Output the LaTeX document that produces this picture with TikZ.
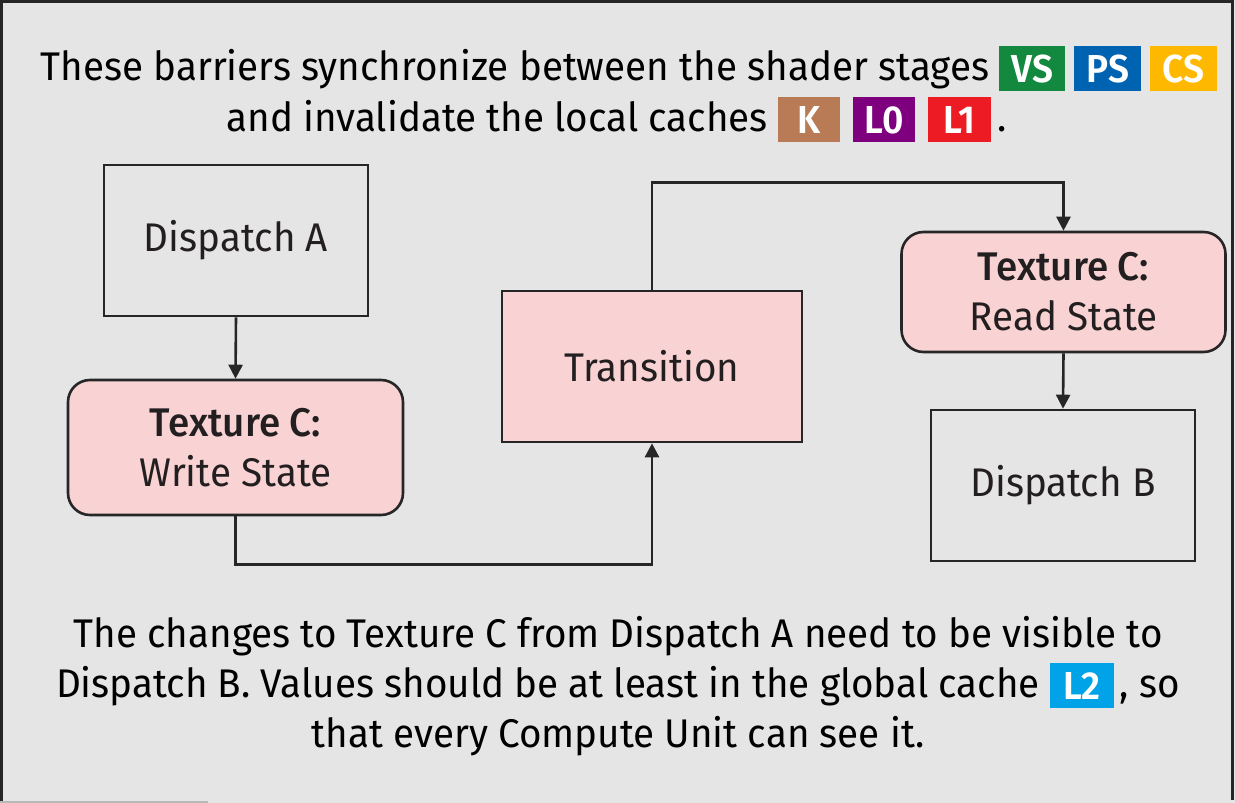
\documentclass[tikz,border=0pt]{standalone}
\usepackage{fontspec}
\setmainfont{Fira Sans}[FakeStretch=0.965, BoldFont={Fira Sans Medium}, BoldFeatures={FakeStretch=0.965}]
\newfontfamily\tagfont{Fira Sans SemiBold}[FakeStretch=0.95]
\usetikzlibrary{arrows.meta}
\definecolor{bgray}{HTML}{E5E5E5}
\definecolor{pinkfill}{HTML}{F9D3D4}
\definecolor{ink}{HTML}{262626}
\definecolor{boxtext}{HTML}{231F20}
\definecolor{cVS}{HTML}{13893F}
\definecolor{cPS}{HTML}{0063B1}
\definecolor{cCS}{HTML}{FFB800}
\definecolor{cK}{HTML}{B97A56}
\definecolor{cLzero}{HTML}{7F007F}
\definecolor{cLone}{HTML}{ED1C24}
\definecolor{cLtwo}{HTML}{00A2E8}
% coloured cache / stage tag
\newcommand{\tagbox}[3]{{\setlength{\fboxsep}{0pt}\colorbox{#1}{\rule[-11pt]{0pt}{45pt}\makebox[#2][c]{\fontsize{39}{40}\selectfont\tagfont\color{white}\raisebox{-2pt}{#3}}}}}
\begin{document}
\begin{tikzpicture}[x=1pt,y=-1pt,
  txt/.style={font=\fontsize{40}{50}\selectfont, text=black, inner sep=0pt},
  plainbox/.style={draw=ink, line width=2.6pt, fill=bgray, inner sep=0pt, text=boxtext, font=\fontsize{40}{50}\selectfont},
  pinkbox/.style={plainbox, fill=pinkfill},
  roundbox/.style={pinkbox, rounded corners=22pt, align=center},
  conn/.style={draw=ink, line width=2.6pt},
  arr/.style={conn, -{Triangle[length=14pt,width=14pt]}}]
\useasboundingbox (0,0) rectangle (1235,803);
\fill[bgray] (0,0) rectangle (1235,803);
% outer frame
\draw[ink, line width=3pt] (1.5,803) -- (1.5,1.5) -- (1232.5,1.5) -- (1232.5,800);
\draw[black!28, line width=2pt] (0,802) -- (208,802);

% heading
\node[txt, anchor=base] (head1) at (629,80) {These barriers synchronize between the shader stages \tagbox{cVS}{66pt}{VS}\hspace{9pt}\tagbox{cPS}{67pt}{PS}\hspace{9pt}\tagbox{cCS}{67pt}{CS}};
\node[txt, anchor=base] (head2) at (617,131) {and invalidate the local caches \tagbox{cK}{62pt}{K}\hspace{13pt}\tagbox{cLzero}{62pt}{L0}\hspace{13pt}\tagbox{cLone}{63pt}{L1}\hspace{7pt}.};

% flow nodes
\node[plainbox, minimum width=264pt, minimum height=151pt] (dispA) at (236,240.5) {Dispatch A};
\node[roundbox, minimum width=335pt, minimum height=135pt] (write) at (235.5,447.5) {\textbf{Texture C:}\\Write State};
\node[pinkbox, minimum width=300pt, minimum height=151pt] (trans) at (652,366.5) {Transition};
\node[roundbox, minimum width=324pt, minimum height=120pt] (read) at (1063.5,292) {\textbf{Texture C:}\\Read State};
\node[plainbox, minimum width=264pt, minimum height=151pt] (dispB) at (1063,485.5) {Dispatch B};

% connectors
\draw[arr] (dispA.south) -- (write.north);
\draw[arr] (write.south) -- ++(0,48) -| (trans.south);
\draw[arr] (trans.north) -- ++(0,-107) -| (read.north);
\draw[arr] (read.south) -- (dispB.north);

% explanation
\node[txt, anchor=base] (foot1) at (618,647) {The changes to Texture C from Dispatch A need to be visible to};
\node[txt, anchor=base] (foot2) at (618,697) {Dispatch B. Values should be at least in the global cache \tagbox{cLtwo}{64pt}{L2}\hspace{6pt}, so};
\node[txt, anchor=base] (foot3) at (618,747) {that every Compute Unit can see it.};
\end{tikzpicture}
\end{document}
